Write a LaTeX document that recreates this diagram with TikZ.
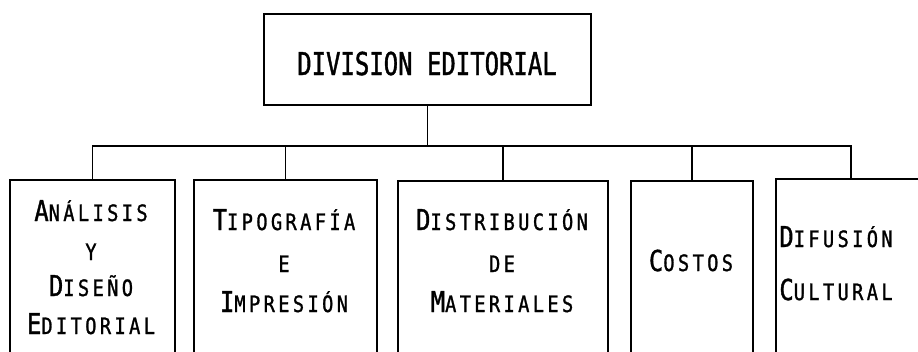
\documentclass[tikz,border=0pt]{standalone}
\usepackage{fontspec}
\newfontfamily\topf[FakeStretch=0.76,FakeBold=1.2]{DejaVu Sans Mono}
\newfontfamily\capf[FakeStretch=0.83,FakeBold=1.2]{DejaVu Sans Mono}
\newfontfamily\smcf[FakeStretch=0.83,LetterSpace=15,FakeBold=1.2]{DejaVu Sans Mono}
\newcommand\Cp[1]{{\fontsize{28.8}{30}\capf #1}}
\newcommand\Sm[1]{{\fontsize{22.5}{24}\smcf #1}}
\newcommand\Wd[2]{\Cp{#1}\Sm{#2}}
\begin{document}
\begin{tikzpicture}[x=1pt,y=-1pt,
  box/.style={draw,line width=1.8pt,rectangle,inner sep=0pt,anchor=north west},
  txt/.style={anchor=base,inner sep=0pt},
  wire/.style={line width=1.8pt}]
\useasboundingbox (0,0) rectangle (918,351);
\clip (0,0) rectangle (918,351);
\fill[white] (0,0) rectangle (918,351);
% top box
\node[box,minimum width=327pt,minimum height=91pt] (top) at (263,13) {};
\node[txt] (toptxt) at (427,75) {\fontsize{31.5}{33}\topf DIVISION EDITORIAL};
% lower boxes (cut off at the bottom)
\node[box,minimum width=165pt,minimum height=220pt] (b1) at (9,179) {};
\node[box,minimum width=183pt,minimum height=220pt] (b2) at (193,179) {};
\node[box,minimum width=210pt,minimum height=220pt] (b3) at (397,180) {};
\node[box,minimum width=122pt,minimum height=220pt] (b4) at (630,180) {};
\node[box,minimum width=150pt,minimum height=220pt] (b5) at (775,178) {};
% connectors
\draw[wire] (top.south) -- ++(0,40) coordinate (j);
\draw[wire] (b1.north) |- (j) -| (b5.north);
\draw[wire] (b2.north) -- (b2.north |- j);
\draw[wire] (b3.north) -- (b3.north |- j);
\draw[wire] (b4.north) -- (b4.north |- j);
% texts
\node[txt] (t1a) at (91,221) {\Wd{A}{NÁLISIS}};
\node[txt] (t1b) at (91,260) {\Sm{Y}};
\node[txt] (t1c) at (91,296) {\Wd{D}{ISEÑO}};
\node[txt] (t1d) at (91,334) {\Wd{E}{DITORIAL}};
\node[txt] (t2a) at (284,230) {\Wd{T}{IPOGRAFÍA}};
\node[txt] (t2b) at (284,272) {\Sm{E}};
\node[txt] (t2c) at (284,312) {\Wd{I}{MPRESIÓN}};
\node[txt] (t3a) at (502,230) {\Wd{D}{ISTRIBUCIÓN}};
\node[txt] (t3b) at (502,272) {\Sm{DE}};
\node[txt] (t3c) at (502,312) {\Wd{M}{ATERIALES}};
\node[txt] (t4a) at (691,271) {\Wd{C}{OSTOS}};
\node[txt] (t5a) at (836,247) {\Wd{D}{IFUSIÓN}};
\node[txt] (t5b) at (836,300) {\Wd{C}{ULTURAL}};
\end{tikzpicture}
\end{document}
